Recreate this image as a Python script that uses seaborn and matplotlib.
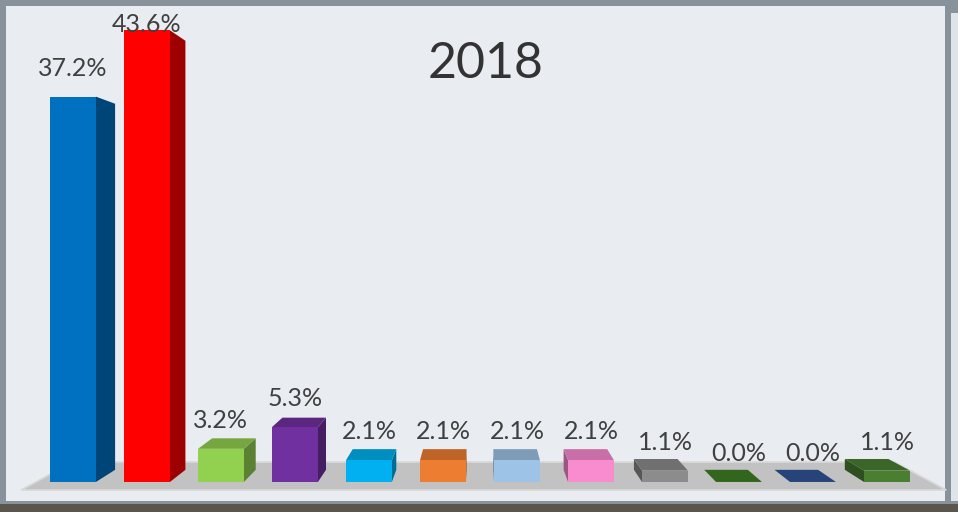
import matplotlib
matplotlib.use("Agg")
import matplotlib.pyplot as plt
from matplotlib.patches import Polygon, Rectangle
import matplotlib.colors as mcolors
import numpy as np
import seaborn as sns

# Vote shares per party, left to right
parties = ["P01", "P02", "P03", "P04", "P05", "P06",
           "P07", "P08", "P09", "P10", "P11", "P12"]
shares = [37.2, 43.6, 3.2, 5.3, 2.1, 2.1, 2.1, 2.1, 1.1, 0.0, 0.0, 1.1]
bar_colors = ["#0070c0", "#ff0000", "#92d050", "#7030a0", "#00b0f0", "#ed7d31",
              "#9dc3e6", "#f98bcf", "#8c8c8c", "#3f7f26", "#2f5597", "#4a7f32"]
title = "2018"

sns.set_theme(style="white")
plt.rcParams["font.family"] = ["Lato", "DejaVu Sans"]

W, H = 958, 512
fig = plt.figure(figsize=(W / 100, H / 100), dpi=100)
fig.patch.set_facecolor("#87929a")


def fig_rect(x0, y0, x1, y1, color, z=0):
    """Rectangle given in pixel coordinates measured from the top-left."""
    fig.add_artist(Rectangle((x0 / W, 1 - y1 / H), (x1 - x0) / W, (y1 - y0) / H,
                             transform=fig.transFigure, facecolor=color,
                             edgecolor="none", zorder=z))


# slide panels and surroundings
fig_rect(0, 504, W, H, "#5a564e")
fig_rect(6, 6, 945, 501, "#e9ecf1")
fig_rect(951, 13, W, 501, "#dfe4ea")

ax = fig.add_axes([0, 0, 1, 1])
sns.barplot(x=parties, y=shares, hue=parties, palette=bar_colors, legend=False,
            width=0.62, saturation=1, linewidth=0, edgecolor="none", ax=ax, zorder=3)
bars = sorted([p for p in ax.patches if isinstance(p, Rectangle)], key=lambda r: r.get_x())
ax.set_xlim(-0.986, 11.96)
ax.set_ylim(-2.90, 46.53)
ax.axis("off")

# perspective: vanishing point and depth factor for the back faces
vp = np.array([5.5, 23.45])
depth = 0.95


def back(pt, k=depth):
    return vp + (np.asarray(pt, float) - vp) * k


def shade(c, f):
    r, g, b = mcolors.to_rgb(c)
    return (r * f, g * f, b * f)


# floor plate under the bars
base = [(-0.5, 0.0), (11.6, 0.0)]
floor = [back(base[0], 1.033), back(base[1], 1.033),
         back(base[1], 0.918), back(base[0], 0.918)]
ax.add_patch(Polygon(floor, closed=True, facecolor="#c2c2c2",
                     edgecolor="#d8d8d8", linewidth=1.2, zorder=1))

for p, val in zip(bars, shares):
    x0, w, h = p.get_x(), p.get_width(), p.get_height()
    col = p.get_facecolor()
    bl, br, tr, tl = (x0, 0), (x0 + w, 0), (x0 + w, h), (x0, h)
    if x0 + w < vp[0]:
        ax.add_patch(Polygon([br, tr, back(tr), back(br)], closed=True,
                             facecolor=shade(col, 0.62), edgecolor="none", zorder=2.5))
    if x0 > vp[0]:
        ax.add_patch(Polygon([bl, tl, back(tl), back(bl)], closed=True,
                             facecolor=shade(col, 0.62), edgecolor="none", zorder=2.5))
    if h < vp[1]:
        ax.add_patch(Polygon([tl, tr, back(tr), back(tl)], closed=True,
                             facecolor=shade(col, 0.8), edgecolor="none", zorder=2.6))
    cx = x0 + w / 2
    ax.text(cx, min(h + 2.0, 43.4), f"{val:.1f}%", ha="center", va="baseline",
            fontsize=18, color="#404040", zorder=5)

fig.text(486 / W, 1 - 78 / H, title, ha="center", va="baseline",
         fontsize=36, color="#333333")

fig.savefig("out.png", dpi=100, facecolor=fig.get_facecolor())
